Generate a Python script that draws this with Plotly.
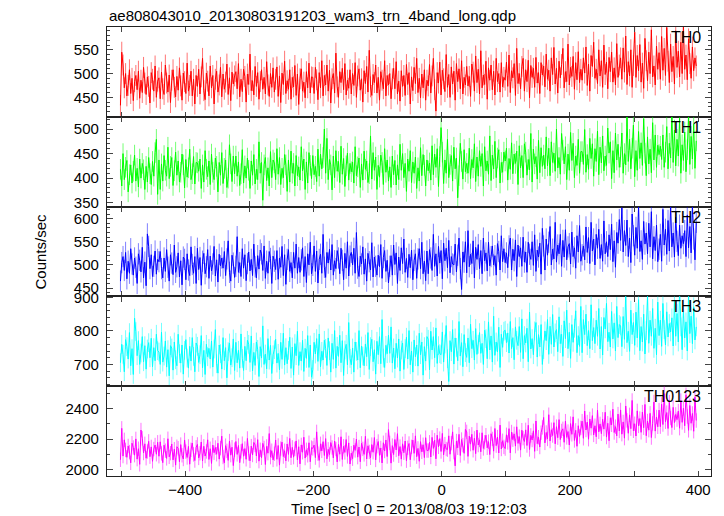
import plotly.graph_objects as go
from plotly.subplots import make_subplots

# ---------------- data ----------------
t_start = -501
t_step = 2
n_pts = 450
times = [t_start + t_step * i for i in range(n_pts)]

th0 = [
    433, 545, 518, 470, 500, 453, 475, 508, 458, 490, 443, 483, 496, 466, 505, 448, 486, 460, 513, 480, 456, 493, 473, 438, 502, 488, 463, 516, 450, 484,
    491, 447, 503, 468, 456, 518, 480, 461, 497, 439, 486, 508, 471, 451, 494, 465, 512, 474, 444, 501, 483, 458, 522, 463, 475, 505, 453, 488, 436, 496,
    473, 509, 457, 493, 532, 464, 445, 501, 484, 453, 516, 470, 496, 436, 488, 505, 461, 476, 513, 451, 499, 467, 482, 520, 456, 491, 443, 503, 478, 495,
    504, 468, 521, 451, 488, 462, 509, 494, 440, 499, 477, 541, 464, 485, 455, 515, 473, 502, 446, 483, 508, 467, 492, 457, 525, 476, 452, 500, 471, 512,
    461, 488, 514, 452, 495, 439, 501, 477, 526, 458, 485, 467, 508, 446, 492, 472, 517, 454, 499, 435, 489, 510, 463, 482, 449, 504, 470, 522, 459, 493,
    492, 458, 513, 487, 445, 502, 470, 527, 453, 496, 476, 518, 463, 507, 438, 489, 500, 459, 543, 472, 450, 504, 481, 511, 466, 521, 455, 486, 469, 508,
    457, 500, 475, 523, 450, 495, 510, 465, 489, 440, 506, 479, 515, 461, 549, 472, 454, 498, 481, 518, 459, 492, 444, 504, 486, 468, 527, 453, 496, 476,
    500, 447, 489, 511, 468, 525, 457, 484, 442, 506, 473, 496, 454, 519, 477, 502, 436, 493, 464, 513, 479, 532, 460, 490, 449, 499, 470, 508, 444, 486,
    474, 519, 459, 495, 532, 466, 421, 502, 480, 524, 455, 507, 489, 462, 540, 471, 498, 450, 514, 478, 505, 444, 521, 483, 510, 468, 527, 457, 492, 476,
    515, 474, 494, 452, 520, 503, 463, 537, 481, 509, 457, 548, 470, 497, 477, 526, 446, 512, 486, 518, 466, 505, 455, 532, 483, 500, 461, 523, 472, 492,
    486, 524, 473, 539, 460, 506, 491, 521, 454, 553, 479, 500, 468, 515, 532, 463, 508, 483, 528, 449, 517, 492, 511, 471, 534, 480, 502, 458, 523, 497,
    516, 472, 541, 488, 507, 463, 533, 498, 555, 478, 511, 459, 526, 491, 519, 553, 470, 504, 483, 562, 476, 513, 494, 536, 467, 523, 487, 546, 481, 509,
    486, 533, 501, 556, 475, 520, 463, 538, 515, 566, 490, 509, 479, 550, 495, 527, 471, 560, 498, 524, 468, 534, 504, 545, 482, 512, 476, 563, 492, 518,
    533, 488, 554, 503, 579, 477, 525, 495, 550, 471, 517, 587, 492, 538, 506, 561, 482, 522, 469, 574, 527, 485, 545, 500, 592, 493, 516, 476, 558, 509,
    544, 488, 578, 507, 553, 496, 597, 526, 481, 562, 504, 536, 478, 590, 513, 547, 493, 566, 500, 601, 509, 539, 487, 573, 521, 490, 556, 506, 533, 516,
]

th1 = [
    418, 384, 450, 397, 422, 436, 372, 407, 427, 390, 414, 447, 394, 420, 382, 439, 400, 430, 417, 377, 424, 392, 442, 409, 387, 434, 404, 452, 479, 367,
    437, 377, 429, 394, 446, 416, 404, 463, 399, 424, 442, 385, 415, 453, 406, 435, 392, 412, 449, 427, 380, 438, 402, 421, 459, 397, 409, 444, 388, 432,
    431, 414, 439, 379, 427, 392, 456, 418, 403, 435, 387, 449, 412, 397, 441, 424, 372, 432, 406, 452, 389, 420, 437, 381, 400, 468, 429, 393, 445, 409,
    445, 404, 433, 385, 409, 458, 390, 425, 400, 441, 416, 379, 435, 406, 448, 388, 418, 397, 474, 410, 432, 355, 427, 442, 395, 421, 384, 454, 401, 437,
    431, 397, 460, 408, 442, 387, 420, 401, 448, 427, 373, 437, 392, 455, 410, 430, 384, 446, 405, 423, 396, 464, 415, 439, 377, 433, 390, 452, 426, 399,
    446, 407, 424, 393, 459, 404, 449, 419, 442, 500, 410, 481, 397, 438, 427, 376, 445, 401, 456, 414, 434, 391, 465, 408, 440, 383, 425, 451, 396, 430,
    413, 433, 390, 464, 405, 423, 441, 381, 429, 396, 455, 418, 435, 391, 409, 486, 398, 452, 416, 443, 377, 426, 402, 447, 432, 387, 460, 412, 437, 394,
    423, 381, 445, 407, 436, 386, 427, 397, 469, 416, 450, 401, 430, 373, 439, 414, 456, 391, 433, 410, 443, 379, 421, 394, 462, 405, 448, 426, 384, 437,
    415, 431, 396, 466, 407, 449, 422, 460, 383, 444, 503, 453, 389, 437, 410, 479, 401, 428, 446, 394, 463, 419, 441, 360, 405, 471, 434, 398, 458, 413,
    430, 410, 461, 399, 438, 421, 470, 393, 443, 404, 456, 424, 450, 384, 464, 415, 435, 408, 486, 395, 447, 419, 475, 401, 441, 458, 390, 432, 412, 453,
    435, 461, 396, 440, 418, 472, 409, 449, 430, 455, 387, 466, 421, 446, 401, 470, 453, 406, 438, 417, 491, 392, 459, 429, 444, 398, 477, 411, 462, 424,
    447, 419, 484, 425, 461, 405, 474, 432, 451, 414, 500, 421, 442, 408, 491, 457, 429, 464, 397, 449, 416, 493, 436, 471, 401, 445, 426, 479, 410, 454,
    454, 428, 499, 412, 448, 418, 481, 440, 470, 404, 460, 434, 496, 407, 463, 431, 486, 415, 445, 426, 502, 451, 474, 399, 456, 411, 492, 437, 469, 422,
    443, 492, 410, 450, 427, 526, 434, 479, 419, 461, 508, 403, 456, 416, 495, 440, 472, 426, 521, 451, 405, 484, 429, 459, 411, 513, 437, 488, 422, 467,
    448, 465, 438, 488, 422, 453, 505, 419, 471, 441, 533, 432, 498, 425, 479, 445, 522, 410, 468, 436, 494, 413, 458, 529, 428, 485, 439, 510, 420, 476,
]

th2 = [
    465, 505, 518, 488, 527, 470, 508, 482, 535, 502, 478, 515, 495, 460, 524, 510, 485, 538, 472, 506, 455, 567, 540, 492, 522, 475, 497, 530, 480, 512,
    507, 529, 492, 472, 515, 486, 533, 495, 465, 522, 504, 479, 543, 484, 496, 526, 474, 509, 457, 517, 512, 468, 524, 489, 477, 539, 501, 482, 518, 460,
    536, 490, 516, 456, 508, 525, 481, 496, 533, 471, 519, 487, 502, 540, 476, 511, 463, 523, 498, 515, 493, 529, 477, 513, 552, 484, 465, 521, 504, 473,
    497, 561, 484, 505, 475, 535, 493, 522, 466, 503, 528, 487, 512, 477, 545, 496, 472, 520, 491, 532, 524, 488, 541, 471, 508, 482, 529, 514, 460, 519,
    508, 490, 531, 469, 515, 495, 540, 477, 522, 458, 512, 533, 486, 505, 472, 527, 493, 545, 482, 516, 484, 511, 537, 475, 518, 462, 524, 500, 549, 481,
    499, 541, 486, 530, 461, 512, 523, 482, 566, 495, 473, 527, 504, 534, 489, 544, 478, 509, 492, 531, 515, 481, 536, 510, 468, 525, 493, 550, 476, 519,
    527, 500, 536, 482, 570, 493, 475, 519, 502, 539, 480, 513, 465, 525, 507, 489, 548, 474, 517, 497, 478, 521, 496, 544, 471, 516, 531, 486, 510, 461,
    497, 520, 478, 543, 501, 526, 460, 517, 488, 537, 503, 556, 484, 514, 473, 523, 494, 532, 468, 510, 524, 471, 513, 535, 492, 549, 481, 508, 466, 530,
    481, 533, 515, 488, 566, 497, 524, 476, 540, 504, 531, 470, 547, 509, 536, 494, 553, 483, 518, 502, 500, 545, 485, 521, 558, 492, 447, 528, 506, 550,
    483, 574, 496, 523, 503, 552, 472, 538, 512, 544, 492, 531, 481, 558, 509, 526, 487, 549, 498, 518, 541, 500, 520, 478, 546, 529, 489, 563, 507, 535,
    505, 526, 494, 541, 558, 489, 534, 509, 554, 475, 543, 518, 537, 497, 560, 506, 528, 484, 549, 523, 512, 550, 499, 565, 486, 532, 517, 547, 480, 579,
    541, 489, 556, 521, 549, 583, 500, 534, 513, 592, 506, 543, 524, 566, 497, 553, 517, 576, 511, 539, 546, 502, 571, 518, 537, 493, 563, 528, 585, 508,
    522, 541, 511, 582, 527, 559, 503, 592, 530, 556, 500, 566, 536, 577, 514, 544, 508, 595, 524, 550, 518, 565, 533, 588, 507, 552, 495, 570, 547, 598,
    553, 623, 528, 574, 542, 597, 518, 558, 505, 610, 563, 521, 581, 536, 628, 529, 552, 512, 594, 545, 569, 524, 590, 539, 615, 513, 561, 531, 586, 507,
    534, 566, 508, 620, 543, 577, 523, 596, 530, 631, 539, 569, 517, 603, 551, 520, 586, 536, 563, 546, 574, 518, 608, 537, 583, 526, 627, 556, 511, 592,
]

th3 = [
    705, 760, 730, 678, 774, 753, 716, 795, 696, 747, 670, 838, 798, 726, 771, 700, 734, 783, 708, 756, 686, 746, 765, 720, 778, 693, 750, 711, 790, 741,
    737, 700, 796, 707, 725, 770, 692, 744, 666, 756, 749, 683, 767, 714, 696, 790, 732, 704, 758, 671, 742, 774, 719, 689, 754, 710, 780, 724, 678, 764,
    754, 706, 729, 786, 690, 742, 670, 760, 723, 748, 716, 770, 692, 746, 804, 702, 674, 758, 732, 686, 780, 711, 750, 660, 738, 764, 698, 720, 776, 682,
    766, 705, 742, 689, 791, 718, 682, 754, 711, 772, 760, 706, 785, 681, 736, 697, 767, 745, 664, 753, 719, 815, 700, 731, 687, 777, 713, 757, 673, 729,
    744, 775, 704, 733, 684, 766, 715, 793, 698, 750, 702, 742, 781, 688, 752, 668, 762, 726, 799, 697, 738, 710, 772, 679, 748, 718, 786, 691, 758, 662,
    685, 766, 731, 777, 709, 791, 693, 739, 713, 772, 748, 697, 779, 741, 677, 763, 715, 801, 689, 754, 724, 787, 705, 771, 667, 743, 760, 699, 825, 718,
    699, 749, 677, 767, 739, 713, 801, 690, 755, 725, 696, 761, 723, 795, 685, 753, 775, 708, 744, 671, 769, 729, 783, 702, 834, 719, 691, 757, 732, 787,
    733, 812, 704, 749, 687, 763, 719, 776, 680, 743, 764, 685, 747, 781, 716, 801, 699, 740, 677, 773, 723, 758, 695, 793, 729, 767, 668, 753, 710, 783,
    775, 684, 799, 743, 783, 720, 809, 703, 756, 732, 729, 797, 707, 761, 816, 717, 649, 771, 738, 804, 701, 779, 751, 711, 828, 725, 765, 693, 789, 735,
    721, 779, 705, 820, 747, 772, 713, 807, 730, 760, 795, 733, 763, 700, 802, 777, 717, 827, 743, 785, 707, 844, 727, 767, 737, 811, 691, 790, 751, 799,
    802, 765, 794, 734, 828, 747, 780, 714, 812, 772, 756, 813, 736, 836, 717, 786, 764, 808, 708, 856, 746, 777, 729, 800, 825, 722, 789, 752, 819, 700,
    744, 800, 771, 834, 730, 814, 760, 849, 752, 794, 804, 738, 842, 762, 790, 724, 830, 777, 862, 747, 796, 718, 819, 766, 808, 860, 735, 786, 754, 873,
    735, 834, 789, 850, 756, 801, 747, 878, 771, 810, 762, 832, 784, 867, 746, 813, 728, 840, 806, 882, 768, 796, 752, 858, 776, 824, 740, 873, 780, 819,
    815, 753, 843, 775, 913, 765, 799, 739, 862, 789, 825, 757, 856, 779, 893, 741, 813, 767, 850, 731, 801, 905, 763, 832, 784, 867, 748, 808, 729, 886,
    786, 832, 754, 882, 804, 758, 857, 782, 822, 797, 839, 755, 890, 784, 852, 767, 918, 812, 744, 866, 779, 827, 740, 908, 792, 844, 762, 872, 773, 812,
]

th0123 = [
    2065, 2270, 2089, 2195, 2129, 2081, 2155, 2115, 2045, 2173, 2145, 2095, 2201, 2069, 2137, 2035, 2259, 2205, 2109, 2169, 2075, 2119, 2185, 2085, 2149, 2055, 2135, 2161, 2101, 2179,
    2088, 2182, 2106, 2046, 2160, 2124, 2074, 2202, 2084, 2108, 2168, 2064, 2134, 2030, 2150, 2140, 2052, 2164, 2094, 2070, 2194, 2118, 2080, 2152, 2036, 2130, 2174, 2100, 2060, 2146,
    2165, 2077, 2107, 2181, 2057, 2153, 2089, 2119, 2195, 2067, 2137, 2041, 2161, 2111, 2145, 2101, 2173, 2069, 2141, 2219, 2083, 2045, 2157, 2123, 2061, 2187, 2095, 2147, 2027, 2131,
    2184, 2100, 2158, 2046, 2120, 2170, 2088, 2138, 2068, 2204, 2106, 2058, 2154, 2096, 2178, 2162, 2090, 2196, 2056, 2130, 2078, 2172, 2142, 2034, 2152, 2108, 2236, 2082, 2124, 2064,
    2104, 2194, 2068, 2158, 2030, 2138, 2180, 2086, 2124, 2058, 2168, 2100, 2204, 2078, 2146, 2082, 2136, 2188, 2064, 2150, 2038, 2162, 2114, 2212, 2076, 2130, 2094, 2176, 2052, 2144,
    2139, 2161, 2079, 2247, 2105, 2061, 2169, 2123, 2183, 2093, 2203, 2071, 2133, 2099, 2177, 2145, 2077, 2187, 2135, 2051, 2165, 2101, 2215, 2067, 2153, 2113, 2197, 2087, 2175, 2037,
    2108, 2072, 2160, 2126, 2200, 2082, 2148, 2052, 2172, 2136, 2100, 2218, 2070, 2156, 2116, 2078, 2164, 2114, 2210, 2064, 2154, 2184, 2094, 2142, 2044, 2176, 2122, 2194, 2086, 2262,
    2175, 2043, 2157, 2099, 2197, 2129, 2235, 2091, 2151, 2069, 2169, 2111, 2187, 2059, 2143, 2171, 2065, 2149, 2193, 2107, 2221, 2085, 2139, 2055, 2183, 2117, 2163, 2079, 2209, 2125,
    2125, 2179, 2083, 2211, 2139, 2193, 2071, 2225, 2149, 2203, 2119, 2237, 2097, 2167, 2135, 2131, 2221, 2101, 2173, 2247, 2115, 2025, 2187, 2143, 2231, 2093, 2197, 2161, 2107, 2263,
    2247, 2087, 2219, 2167, 2231, 2127, 2205, 2105, 2259, 2161, 2195, 2117, 2241, 2139, 2179, 2225, 2143, 2183, 2099, 2235, 2201, 2121, 2269, 2157, 2213, 2109, 2291, 2135, 2189, 2149,
    2138, 2228, 2178, 2268, 2110, 2246, 2196, 2234, 2154, 2280, 2172, 2216, 2128, 2258, 2206, 2184, 2260, 2158, 2290, 2132, 2224, 2194, 2254, 2120, 2318, 2170, 2212, 2148, 2242, 2276,
    2341, 2175, 2243, 2201, 2359, 2187, 2261, 2223, 2307, 2169, 2281, 2209, 2327, 2197, 2253, 2267, 2179, 2317, 2211, 2249, 2161, 2301, 2231, 2345, 2191, 2257, 2153, 2287, 2217, 2273,
    2317, 2205, 2383, 2259, 2311, 2199, 2331, 2271, 2353, 2227, 2287, 2215, 2389, 2247, 2299, 2235, 2329, 2265, 2375, 2213, 2303, 2189, 2339, 2293, 2395, 2243, 2281, 2221, 2363, 2253,
    2390, 2232, 2312, 2206, 2416, 2322, 2238, 2358, 2268, 2452, 2254, 2300, 2220, 2384, 2286, 2334, 2244, 2376, 2274, 2426, 2222, 2318, 2258, 2368, 2210, 2302, 2442, 2252, 2344, 2280,
    2389, 2281, 2427, 2295, 2497, 2313, 2373, 2269, 2441, 2337, 2275, 2407, 2307, 2361, 2327, 2383, 2271, 2451, 2309, 2401, 2287, 2489, 2347, 2257, 2419, 2303, 2367, 2251, 2475, 2321,
]

band_names = ["TH0", "TH1", "TH2", "TH3", "TH0123"]
band_errors = [22, 21, 23, 28, 47]

x_tick_vals = [-500, -400, -300, -200, -100, 0, 100, 200, 300, 400]
x_tick_text = ["", "\u2212400", "", "\u2212200", "", "0", "", "200", "", "400"]

title_text = "ae808043010_20130803191203_wam3_trn_4band_long.qdp"
x_title = "Time [sec] 0 = 2013/08/03 19:12:03"
y_title = "Counts/sec"

# ---------------- styling ----------------
series = [th0, th1, th2, th3, th0123]
colors = ["#ff0000", "#00ff00", "#0000ff", "#00ffff", "#ff00ff"]
err_colors = ["rgba(255,0,0,0.55)", "rgba(0,255,0,0.55)", "rgba(0,0,255,0.5)",
              "rgba(0,255,255,0.55)", "rgba(255,0,255,0.55)"]
y_ranges = [[409, 598], [342, 525], [432, 626], [635, 903], [1959, 2545]]
y_major = [50, 50, 50, 100, 200]
y_minor = [10, 10, 10, 20, 100]
x_range = [-522, 420]

FONT = "Liberation Sans, Arial, Helvetica, sans-serif"

fig = make_subplots(rows=5, cols=1, shared_xaxes=True, vertical_spacing=0)

for i in range(5):
    fig.add_trace(
        go.Scatter(
            x=times, y=series[i], mode="lines",
            line=dict(color=colors[i], width=1),
            error_y=dict(type="constant", value=band_errors[i], color=err_colors[i],
                         thickness=1, width=0),
            showlegend=False, hoverinfo="skip",
        ),
        row=i + 1, col=1,
    )

for i in range(5):
    r = i + 1
    fig.update_yaxes(
        range=y_ranges[i], dtick=y_major[i], tick0=0,
        ticks="inside", ticklen=6, tickwidth=1, tickcolor="#444",
        minor=dict(ticks="inside", ticklen=3, dtick=y_minor[i], tick0=0, tickcolor="#444", showgrid=False),
        showline=True, linecolor="#222", linewidth=1.3, mirror="ticks",
        showgrid=False, zeroline=False,
        tickfont=dict(family=FONT, size=15, color="black"),
        ticklabelstandoff=4,
        row=r, col=1,
    )
    fig.update_xaxes(
        range=x_range, tickmode="array", tickvals=x_tick_vals, ticktext=x_tick_text,
        ticks="inside", ticklen=5, tickwidth=1, tickcolor="#444",
        showline=True, linecolor="#222", linewidth=1.3, mirror="ticks",
        showgrid=False, zeroline=False,
        showticklabels=(r == 5),
        tickfont=dict(family=FONT, size=15, color="black"),
        row=r, col=1,
    )

annotations = []
yaxis_names = ["y", "y2", "y3", "y4", "y5"]
xaxis_names = ["x", "x2", "x3", "x4", "x5"]
for i in range(5):
    annotations.append(dict(
        text=band_names[i], xref=xaxis_names[i] + " domain", yref=yaxis_names[i] + " domain",
        x=0.987, y=1.0, xanchor="right", yanchor="top", showarrow=False,
        font=dict(family=FONT, size=16, color="black"),
    ))

annotations.append(dict(
    text=x_title, xref="paper", yref="paper", x=0.5, y=0, yshift=-32,
    xanchor="center", yanchor="middle", showarrow=False,
    font=dict(family=FONT, size=15, color="black"),
))
annotations.append(dict(
    text=y_title, xref="paper", yref="paper", x=0, xshift=-67, y=0.5,
    xanchor="center", yanchor="middle", textangle=-90, showarrow=False,
    font=dict(family=FONT, size=15, color="black"),
))
annotations.append(dict(
    text=title_text, xref="paper", yref="paper", x=0, y=1, yshift=12,
    xanchor="left", yanchor="middle", showarrow=False,
    font=dict(family=FONT, size=15, color="black"),
))

# the page body has an 8px default margin, so the figure is sized to end at the window edge
fig.update_layout(
    width=716, height=508,
    margin=dict(l=99, r=13, t=19, b=40),
    paper_bgcolor="white", plot_bgcolor="white",
    annotations=annotations,
    showlegend=False,
)

fig.write_html("out.html")
